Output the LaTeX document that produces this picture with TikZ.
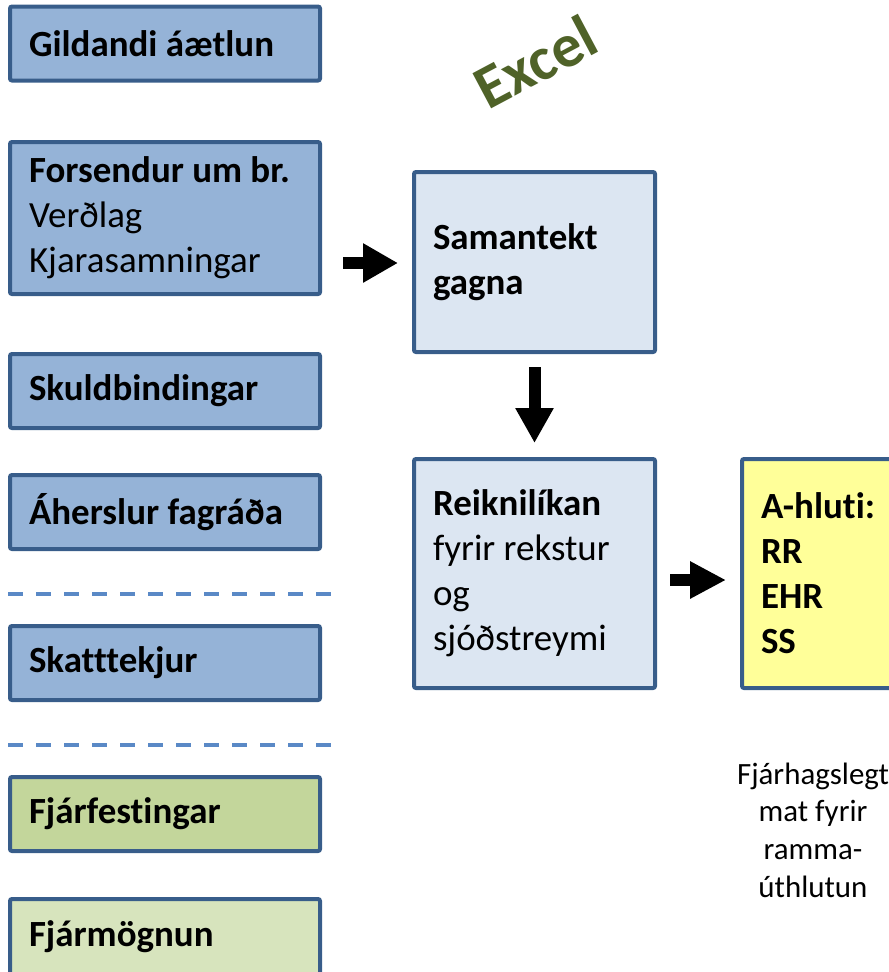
\documentclass[tikz,border=0pt]{standalone}
\usepackage{fontspec}
\setmainfont{Carlito}[Ligatures={NoCommon}]
\usetikzlibrary{arrows.meta}
\definecolor{boxline}{HTML}{385D8A}
\definecolor{bluefill}{HTML}{95B3D7}
\definecolor{lightfill}{HTML}{DCE6F2}
\definecolor{yelfill}{HTML}{FFFF99}
\definecolor{greenA}{HTML}{C3D69B}
\definecolor{greenB}{HTML}{D7E4BD}
\definecolor{dashblue}{HTML}{5A89C6}
\definecolor{excelgreen}{HTML}{4F6228}
\def\u{0.75pt}
\tikzset{
  box/.style={draw=boxline, line width=3pt, rounded corners=1.5pt, rectangle,
    inner xsep=19*\u, inner ysep=0pt, align=flush left,
    font=\fontsize{27.7pt}{33.75pt}\selectfont},
  lbox/.style={box, fill=bluefill, minimum width=310*\u, text width=272*\u, minimum height=74*\u},
  cbox/.style={box, fill=lightfill, minimum width=241*\u, text width=203*\u},
  blockarrow/.style={line width=9pt, black},
  dashline/.style={draw=dashblue, line width=3pt, dash pattern=on 11.25pt off 9.75pt},
}
\begin{document}
\begin{tikzpicture}[x=\u, y=-\u]
\useasboundingbox (0,0) rectangle (889,972);
\clip (0,0) rectangle (889,972);
% left column
\node[lbox] (gild) at (165,43.5) {\textbf{Gildandi áætlun}};
\node[lbox, minimum height=152*\u] (fors) at (165,218) {\textbf{Forsendur um br.}\\Verðlag\\Kjarasamningar};
\node[lbox] (skuld) at (165,391) {\textbf{Skuldbindingar}};
\node[lbox] (aher) at (165,512) {\textbf{Áherslur fagráða}};
\node[lbox] (skatt) at (165,663) {\textbf{Skatttekjur}};
\node[lbox, fill=greenA] (fjarf) at (165,814) {\textbf{Fjárfestingar}};
\node[lbox, fill=greenB, minimum height=76*\u] (fjarm) at (165,937) {\textbf{Fjármögnun}};
% dashed separators
\coordinate (d1a) at (8,594); \coordinate (d1b) at (334,594);
\coordinate (d2a) at (8,745); \coordinate (d2b) at (334,745);
\draw[dashline] (d1a) -- (d1b);
\draw[dashline] (d2a) -- (d2b);
% middle column
\node[cbox, minimum height=180*\u] (saman) at (534.5,262) {\textbf{Samantekt}\\\textbf{gagna}};
\node[cbox, minimum height=229*\u] (reikn) at (534.5,573.5) {\textbf{Reiknilíkan}\\fyrir rekstur\\og\\sjóðstreymi};
% right column
\node[box, fill=yelfill, minimum width=218*\u, text width=180*\u, minimum height=229*\u] (ahluti) at (851,573.5) {\textbf{A-hluti:}\\\textbf{RR}\\\textbf{EHR}\\\textbf{SS}};
\node[align=center, font=\fontsize{23.2pt}{28.3pt}\selectfont] (mat) at (813,830) {Fjárhagslegt\\mat fyrir\\ramma-\\úthlutun};
% Excel label
\node[rotate=28, text=excelgreen, font=\bfseries\fontsize{46pt}{54pt}\selectfont] (excel) at (535,62) {Excel};
% arrows
\coordinate (a1s) at (343,263); \coordinate (a1e) at (398,263);
\draw[blockarrow, -{Triangle[length=26.25pt,width=27.75pt]}] (a1s) -- (a1e);
\coordinate (a2s) at (534.5,367); \coordinate (a2e) at (534.5,443);
\draw[blockarrow, -{Triangle[length=26.25pt,width=27pt]}] (a2s) -- (a2e);
\coordinate (a3s) at (670,580); \coordinate (a3e) at (726,580);
\draw[blockarrow, -{Triangle[length=27pt,width=26.25pt]}] (a3s) -- (a3e);
\end{tikzpicture}
\end{document}
